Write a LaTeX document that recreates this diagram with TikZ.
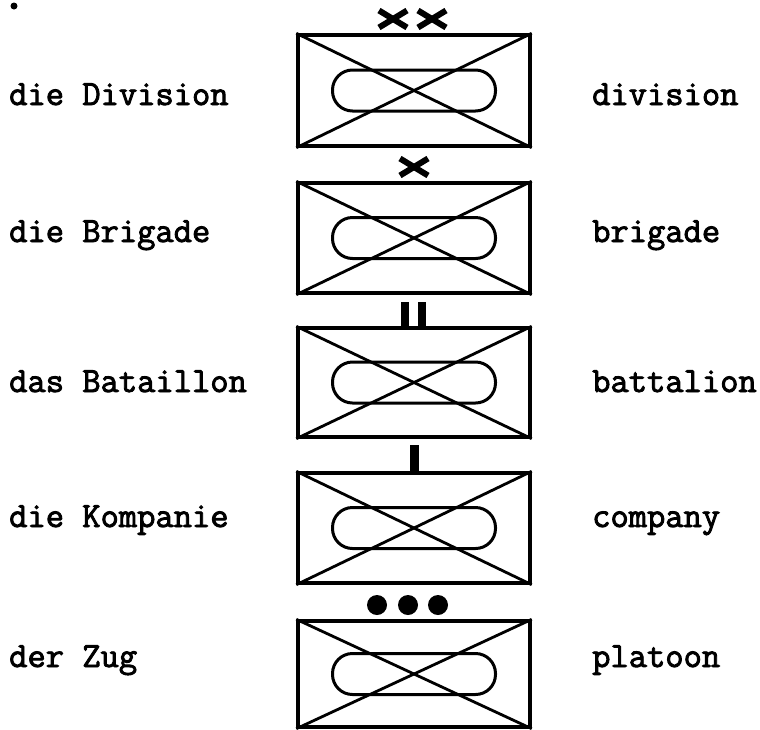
\documentclass[tikz,border=0pt]{standalone}
\usepackage{fontspec}
\newfontfamily\labelfont{Latin Modern Mono}[AutoFakeBold=2.5]
\begin{document}
\begin{tikzpicture}[x=1pt,y=-1pt,
  unitbox/.style={draw, line width=3.4pt, inner sep=0pt, minimum width=232pt},
  pill/.style={draw, line width=3pt, rounded corners=20pt, minimum width=163pt, minimum height=41pt, inner sep=0pt},
  diag/.style={line width=2.8pt},
  xmark/.style={line width=6pt},
  lbl/.style={anchor=base west, inner sep=0pt, font=\labelfont\bfseries\fontsize{35.5}{35.5}\selectfont}]
\useasboundingbox (0,0) rectangle (760,729);
\newcommand{\unitsym}[3]{%
  \node[unitbox, minimum height={#3-#2}] (#1) at (414,{(#2+#3)/2}) {};
  \draw[diag] (#1.north west) -- (#1.south east);
  \draw[diag] (#1.south west) -- (#1.north east);
  \node[pill] (#1p) at (#1.center) {};
}
\unitsym{div}{35}{146}
\unitsym{brig}{183}{293}
\unitsym{bat}{328}{437}
\unitsym{comp}{473}{583}
\unitsym{plat}{621}{727}
% markers
\foreach \cx/\cy in {393/19, 432/19, 414/167}{
  \draw[xmark] (\cx-14,\cy-8.5) -- (\cx+14,\cy+8.5);
  \draw[xmark] (\cx-14,\cy+8.5) -- (\cx+14,\cy-8.5);
}
\fill (400.5,302) rectangle (408.5,327);
\fill (417.5,302) rectangle (425.5,327);
\fill (410,445) rectangle (418.5,473);
\foreach \cx in {377,408,438}{\fill (\cx,605) circle (10);}
\fill (14,6) circle (3.5);
% labels
\node[lbl] (l1) at (9,105) {die Division};
\node[lbl] (l2) at (9,242) {die Brigade};
\node[lbl] (l3) at (9,392) {das Bataillon};
\node[lbl] (l4) at (9,527) {die Kompanie};
\node[lbl] (l5) at (9,667) {der Zug};
\node[lbl] (r1) at (592,105) {division};
\node[lbl] (r2) at (592,242) {brigade};
\node[lbl] (r3) at (592,392) {battalion};
\node[lbl] (r4) at (592,527) {company};
\node[lbl] (r5) at (592,667) {platoon};
\end{tikzpicture}
\end{document}
